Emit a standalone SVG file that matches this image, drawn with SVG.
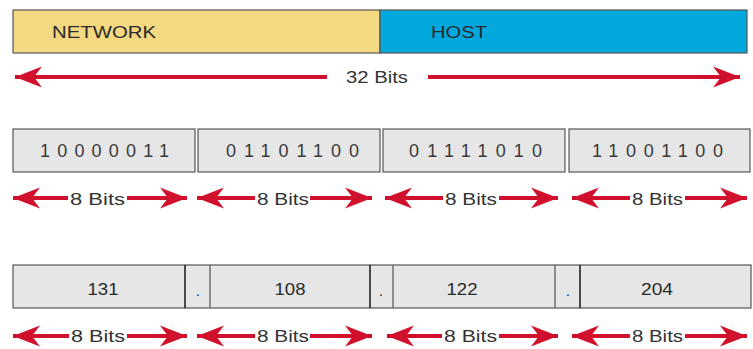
<svg xmlns="http://www.w3.org/2000/svg" width="753" height="349" viewBox="0 0 753 349">
<style>
  text { font-family: "Liberation Sans", Arial, sans-serif; fill: #2a2a2a; }
  .lbl { font-size: 16px; }
  .bin { font-size: 18px; fill: #3a3a3a; }
  .num { font-size: 17px; }
  .dot { font-size: 14px; }
  .bits { font-size: 17px; fill: #333; }
  .box { fill: #e6e6e6; stroke: #555; stroke-width: 1.2; }
  .arr { stroke: #d0102c; stroke-width: 4; fill: none; marker-end: url(#head); }
  .div { stroke: #222; stroke-width: 1.6; }
  .div2 { stroke: #666; stroke-width: 1.4; }
</style>
<defs>
  <marker id="head" viewBox="-29 -12 30 24" refX="0" refY="0" markerWidth="30" markerHeight="24" markerUnits="userSpaceOnUse" orient="auto">
    <path d="M0,0 L-27,-10.5 L-19,0 L-27,10.5 Z" fill="#d0102c"/>
  </marker>
</defs>
<rect width="753" height="349" fill="#ffffff"/>

<g id="network">
  <rect x="13" y="10" width="367" height="43" fill="#f4d982" stroke="#555" stroke-width="1.2"/>
  <text class="lbl" x="52" y="38" textLength="104" lengthAdjust="spacingAndGlyphs">NETWORK</text>
</g>
<g id="host">
  <rect x="380" y="10" width="367" height="43" fill="#00a8de" stroke="#555" stroke-width="1.2"/>
  <text class="lbl" x="431" y="38" textLength="56" lengthAdjust="spacingAndGlyphs">HOST</text>
</g>

<g id="octet-bin-1">
  <rect class="box" x="13" y="129" width="182" height="43"/>
  <text class="bin" x="40" y="157" textLength="129" lengthAdjust="spacing">10000011</text>
</g>
<g id="octet-bin-2">
  <rect class="box" x="198" y="129" width="182" height="43"/>
  <text class="bin" x="226" y="157" textLength="133" lengthAdjust="spacing">01101100</text>
</g>
<g id="octet-bin-3">
  <rect class="box" x="383" y="129" width="182" height="43"/>
  <text class="bin" x="409" y="157" textLength="133" lengthAdjust="spacing">01111010</text>
</g>
<g id="octet-bin-4">
  <rect class="box" x="569" y="129" width="181" height="43"/>
  <text class="bin" x="592" y="157" textLength="131" lengthAdjust="spacing">11001100</text>
</g>

<g id="dotted-decimal">
  <rect class="box" x="13" y="265" width="738" height="43"/>
  <line class="div" x1="185" y1="265" x2="185" y2="308"/>
  <line class="div2" x1="210" y1="265" x2="210" y2="308"/>
  <line class="div" x1="370" y1="265" x2="370" y2="308"/>
  <line class="div2" x1="393" y1="265" x2="393" y2="308"/>
  <line class="div2" x1="555" y1="265" x2="555" y2="308"/>
  <line class="div" x1="580" y1="265" x2="580" y2="308"/>
  <text class="num" x="103" y="295" text-anchor="middle" textLength="31" lengthAdjust="spacingAndGlyphs">131</text>
  <text class="dot" x="198" y="296" text-anchor="middle">.</text>
  <text class="num" x="290" y="295" text-anchor="middle" textLength="31" lengthAdjust="spacingAndGlyphs">108</text>
  <text class="dot" x="381" y="296" text-anchor="middle">.</text>
  <text class="num" x="462" y="295" text-anchor="middle" textLength="31" lengthAdjust="spacingAndGlyphs">122</text>
  <text class="dot" x="568" y="296" text-anchor="middle">.</text>
  <text class="num" x="657" y="295" text-anchor="middle" textLength="32" lengthAdjust="spacingAndGlyphs">204</text>
</g>

<g id="connectors">
  <line class="arr" x1="327" y1="77" x2="15" y2="77"/>
  <line class="arr" x1="428" y1="77" x2="740" y2="77"/>

  <line class="arr" x1="68" y1="198" x2="13" y2="198"/>
  <line class="arr" x1="127" y1="198" x2="187" y2="198"/>
  <line class="arr" x1="255" y1="198" x2="197" y2="198"/>
  <line class="arr" x1="310" y1="198" x2="372" y2="198"/>
  <line class="arr" x1="443" y1="198" x2="385" y2="198"/>
  <line class="arr" x1="499" y1="198" x2="558" y2="198"/>
  <line class="arr" x1="630" y1="198" x2="572" y2="198"/>
  <line class="arr" x1="685" y1="198" x2="747" y2="198"/>

  <line class="arr" x1="69" y1="336" x2="13" y2="336"/>
  <line class="arr" x1="127" y1="336" x2="187" y2="336"/>
  <line class="arr" x1="255" y1="336" x2="197" y2="336"/>
  <line class="arr" x1="310" y1="336" x2="372" y2="336"/>
  <line class="arr" x1="442" y1="336" x2="387" y2="336"/>
  <line class="arr" x1="499" y1="336" x2="558" y2="336"/>
  <line class="arr" x1="630" y1="336" x2="572" y2="336"/>
  <line class="arr" x1="685" y1="336" x2="747" y2="336"/>
</g>

<g id="labels">
  <text class="bits" x="346" y="83" textLength="62" lengthAdjust="spacingAndGlyphs">32 Bits</text>
  <text class="bits" x="70" y="205" textLength="55" lengthAdjust="spacingAndGlyphs">8 Bits</text>
  <text class="bits" x="257" y="205" textLength="52" lengthAdjust="spacingAndGlyphs">8 Bits</text>
  <text class="bits" x="445" y="205" textLength="52" lengthAdjust="spacingAndGlyphs">8 Bits</text>
  <text class="bits" x="632" y="205" textLength="51" lengthAdjust="spacingAndGlyphs">8 Bits</text>
  <text class="bits" x="71" y="342" textLength="54" lengthAdjust="spacingAndGlyphs">8 Bits</text>
  <text class="bits" x="257" y="342" textLength="52" lengthAdjust="spacingAndGlyphs">8 Bits</text>
  <text class="bits" x="444" y="342" textLength="53" lengthAdjust="spacingAndGlyphs">8 Bits</text>
  <text class="bits" x="632" y="342" textLength="51" lengthAdjust="spacingAndGlyphs">8 Bits</text>
</g>
</svg>
